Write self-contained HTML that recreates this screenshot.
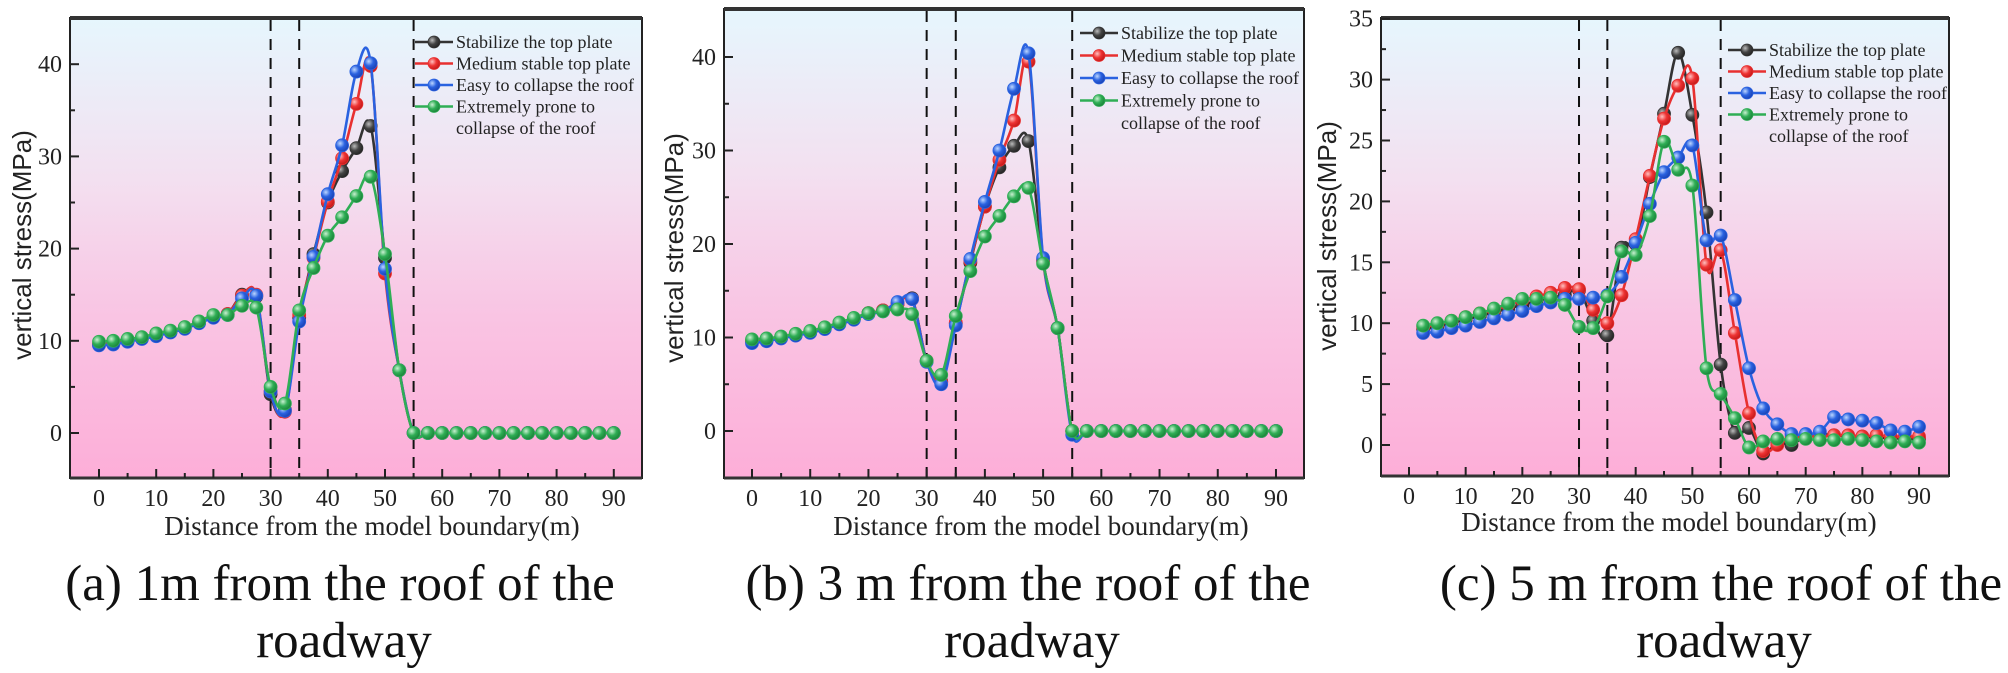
<!DOCTYPE html>
<html><head><meta charset="utf-8">
<style>
html,body{margin:0;padding:0;background:#fff;}
body{width:2008px;height:673px;overflow:hidden;position:relative;font-family:"Liberation Serif",serif;}
svg{position:absolute;left:0;top:0;}
</style></head><body>
<svg id="s" width="2008" height="673" xmlns="http://www.w3.org/2000/svg">
<defs>
<linearGradient id="bg" x1="0" y1="0" x2="0" y2="1">
<stop offset="0" stop-color="#e6f6fd"/><stop offset="0.35" stop-color="#f3e0f0"/><stop offset="0.65" stop-color="#f9c4e3"/><stop offset="1" stop-color="#fdaed8"/>
</linearGradient>
<radialGradient id="gk" cx="0.35" cy="0.35" r="0.7"><stop offset="0" stop-color="#bbb"/><stop offset="0.5" stop-color="#444"/><stop offset="1" stop-color="#222"/></radialGradient>
<radialGradient id="gr" cx="0.35" cy="0.35" r="0.7"><stop offset="0" stop-color="#ffc0c0"/><stop offset="0.5" stop-color="#ee3333"/><stop offset="1" stop-color="#c01818"/></radialGradient>
<radialGradient id="gb" cx="0.35" cy="0.35" r="0.7"><stop offset="0" stop-color="#bcd6ff"/><stop offset="0.5" stop-color="#2a62e0"/><stop offset="1" stop-color="#1a40b0"/></radialGradient>
<radialGradient id="gg" cx="0.35" cy="0.35" r="0.7"><stop offset="0" stop-color="#c8f0d0"/><stop offset="0.5" stop-color="#2fae55"/><stop offset="1" stop-color="#1a8038"/></radialGradient>
</defs>
<g id="g"></g>
<g font-family="Liberation Serif, serif" font-size="51" fill="#111" text-anchor="middle">
<text x="340" y="600">(a) 1m from the roof of the</text>
<text x="344" y="657">roadway</text>
<text x="1028" y="600">(b) 3 m from the roof of the</text>
<text x="1032" y="657">roadway</text>
<text x="1721" y="600">(c) 5 m from the roof of the</text>
<text x="1724" y="657">roadway</text>
</g>
</svg>
<script>
var NS="http://www.w3.org/2000/svg",G=document.getElementById('g');
function el(t,a,txt){var e=document.createElementNS(NS,t);for(var k in a)e.setAttribute(k,a[k]);if(txt!==undefined)e.textContent=txt;G.appendChild(e);return e;}
var COL={k:'#333333',r:'#e83030',b:'#2a62e0',g:'#2fae55'};
function spline(pts){var d='M'+pts[0][0]+','+pts[0][1];for(var i=0;i<pts.length-1;i++){var p0=pts[i-1]||pts[i],p1=pts[i],p2=pts[i+1],p3=pts[i+2]||p2;var t=6;d+=' C'+(p1[0]+(p2[0]-p0[0])/t)+','+(p1[1]+(p2[1]-p0[1])/t)+' '+(p2[0]-(p3[0]-p1[0])/t)+','+(p2[1]-(p3[1]-p1[1])/t)+' '+p2[0]+','+p2[1];}return d;}
function panel(P){
 el('rect',{x:P.L,y:P.T,width:P.R-P.L,height:P.B-P.T,fill:'url(#bg)'});
 var X=function(v){return P.x0+v*P.xs},Y=function(v){return P.y0-v*P.ys};
 [30,35,55].forEach(function(v){el('line',{x1:X(v),x2:X(v),y1:P.T+2,y2:P.B,stroke:'#111','stroke-width':2,'stroke-dasharray':'11,8'});});
 ['k','r','b','g'].forEach(function(c){var d=P.d[c];var pts=d.map(function(p){return [X(p[0]),Y(p[1])]});
  el('path',{d:spline(pts),fill:'none',stroke:COL[c],'stroke-width':2.6});
  pts.forEach(function(p){el('circle',{cx:p[0],cy:p[1],r:6.5,fill:'url(#g'+c+')',stroke:COL[c],'stroke-width':0.8});});
 });
 el('rect',{x:P.L,y:P.T,width:P.R-P.L,height:P.B-P.T,fill:'none',stroke:'#222','stroke-width':2});
 el('line',{x1:P.L,x2:P.R,y1:P.T,y2:P.T,stroke:'#333','stroke-width':4});
 el('line',{x1:P.L,x2:P.R,y1:P.B,y2:P.B,stroke:'#333','stroke-width':3});
 for(var v=0;v<=90;v+=5){var big=v%10==0;el('line',{x1:X(v),x2:X(v),y1:P.B,y2:P.B-(big?9:5),stroke:'#222','stroke-width':2});
  if(big)el('text',{x:X(v),y:P.B+28,'font-size':24,'text-anchor':'middle',fill:'#222','font-family':'Liberation Serif, serif'},v);}
 for(var i=0;i<P.yt.length;i++){var v=P.yt[i];el('line',{x1:P.L,x2:P.L+9,y1:Y(v),y2:Y(v),stroke:'#222','stroke-width':2});
  el('text',{x:P.L-8,y:Y(v)+8,'font-size':24,'text-anchor':'end',fill:'#222','font-family':'Liberation Serif, serif'},v);
  var m=v+P.ym;if(Y(m)>P.T+3)el('line',{x1:P.L,x2:P.L+5,y1:Y(m),y2:Y(m),stroke:'#222','stroke-width':2});}
 var m0=P.yt[0]-P.ym;if(Y(m0)<P.B-3)el('line',{x1:P.L,x2:P.L+5,y1:Y(m0),y2:Y(m0),stroke:'#222','stroke-width':2});
 el('text',{x:P.xtx,y:P.xty,'font-size':27,'text-anchor':'middle',fill:'#222','font-family':'Liberation Serif, serif'},'Distance from the model boundary(m)');
 el('text',{x:0,y:0,'font-size':26,'text-anchor':'middle',fill:'#222','font-family':'Liberation Sans, sans-serif',transform:'translate('+(P.ytx+10)+','+P.yty+') rotate(-90)'},'vertical stress(MPa)');
 var names=['Stabilize the top plate','Medium stable top plate','Easy to collapse the roof','Extremely prone to'];
 ['k','r','b','g'].forEach(function(c,i){var y=P.lg[1]+i*P.lg[2];
  el('line',{x1:P.lg[0],x2:P.lg[0]+38,y1:y,y2:y,stroke:COL[c],'stroke-width':2.6});
  el('circle',{cx:P.lg[0]+19,cy:y,r:6,fill:'url(#g'+c+')',stroke:COL[c],'stroke-width':0.8});
  el('text',{x:P.lg[0]+41,y:y+6,'font-size':18,fill:'#222','font-family':'Liberation Serif, serif'},names[i]);});
 el('text',{x:P.lg[0]+41,y:P.lg[1]+4*P.lg[2]+6,'font-size':18,fill:'#222','font-family':'Liberation Serif, serif'},'collapse of the roof');
}
function mk(xs,vals){return xs.map(function(x,i){return [x,vals[i]]});}
function rng(a,b,s){var r=[];for(var v=a;v<=b+1e-9;v+=s)r.push(v);return r;}
var xa=rng(0,90,2.5);
var zeros=function(n){var r=[];for(var i=0;i<n;i++)r.push(0);return r;};
var early=[9.6,9.8,10,10.3,10.6,11,11.4,12,12.6,12.9];
var A={
 k:mk(xa,early.concat([15,14.8,4.2,2.5,12.5,19.4,25,28.4,30.9,33.3,19,6.8]).concat(zeros(15))),
 r:mk(xa,early.concat([14.9,15,4.5,2.3,12.8,19,25.1,29.8,35.7,39.8,17.3,6.8]).concat(zeros(15))),
 b:mk(xa,[9.5,9.6,9.9,10.2,10.5,10.9,11.3,11.9,12.5,12.8,14.6,14.9,4.5,2.4,12.1,19.1,25.9,31.2,39.2,40.1,17.8,6.8].concat(zeros(15))),
 g:mk(xa,[9.9,10,10.2,10.4,10.8,11.1,11.5,12.1,12.8,12.8,13.8,13.6,5,3.2,13.3,17.9,21.4,23.4,25.7,27.8,19.4,6.8].concat(zeros(15)))
};
panel({L:70,R:642,T:18,B:478,x0:99,xs:5.72,y0:433,ys:9.22,yt:[0,10,20,30,40],ym:5,d:A,xtx:372,xty:535,ytx:21,yty:245,lg:[415,42,21.5]});
var eb=[9.6,9.8,10,10.3,10.6,11,11.5,12,12.6,12.9,13.6];
var B={
 k:mk(xa,eb.concat([14.2,7.5,5.3,11.5,18,24,28.2,30.5,31,18.2,11,0]).concat(zeros(14))),
 r:mk(xa,eb.concat([14.1,7.5,5.2,11.6,18.2,24,29,33.2,39.5,18.3,11,0]).concat(zeros(14))),
 b:mk(xa,[9.4,9.6,9.9,10.2,10.5,10.9,11.4,11.9,12.5,12.8,13.8,14.1,7.4,5,11.3,18.4,24.5,30,36.6,40.4,18.5,11,-0.4].concat(zeros(14))),
 g:mk(xa,[9.8,9.9,10.1,10.4,10.7,11.1,11.6,12.1,12.6,12.8,13,12.5,7.5,6,12.3,17.1,20.8,23,25.1,26,17.9,11,0].concat(zeros(14)))
};
panel({L:724,R:1304,T:9,B:478,x0:752,xs:5.822,y0:431,ys:9.35,yt:[0,10,20,30,40],ym:5,d:B,xtx:1041,xty:535,ytx:673,yty:248,lg:[1080,33,22.5]});
var xc=rng(2.5,90,2.5);
var C={
 k:mk(xc,[9.5,9.7,10,10.3,10.6,10.9,11.2,11.5,11.8,12.1,12.3,12.7,10.2,9,16.2,16.5,22,27.2,32.2,27.1,19.1,6.6,1,1.4,-0.7,0.2,0,0.8,0.9,0.8,0.7,0.7,0.6,0.6,0.5,0.5]),
 r:mk(xc,[9.7,9.9,10.2,10.5,10.8,11.1,11.5,11.9,12.2,12.5,12.9,12.8,11.1,10,12.3,16.9,22.1,26.8,29.5,30.1,14.8,16,9.2,2.6,-0.5,0,0.6,0.7,0.7,0.8,0.8,0.7,0.8,0.7,0.7,0.7]),
 b:mk(xc,[9.2,9.3,9.6,9.8,10.1,10.4,10.7,11,11.4,11.7,12,12,12.1,12.3,13.8,16.6,19.8,22.4,23.6,24.6,16.8,17.2,11.9,6.3,3,1.7,0.9,0.9,1.1,2.3,2.1,2,1.8,1.2,1.1,1.5]),
 g:mk(xc,[9.8,10,10.2,10.5,10.8,11.2,11.6,12,12,12.1,11.5,9.7,9.6,12.2,15.9,15.6,18.8,24.9,22.6,21.3,6.3,4.2,2.2,-0.2,0.3,0.5,0.4,0.5,0.4,0.4,0.5,0.4,0.3,0.2,0.3,0.2])
};
panel({L:1381,R:1949,T:18,B:476,x0:1409,xs:5.667,y0:445,ys:12.18,yt:[0,5,10,15,20,25,30,35],ym:2.5,d:C,xtx:1669,xty:531,ytx:1326,yty:236,lg:[1728,50,21.5]});
</script>
</body></html>
